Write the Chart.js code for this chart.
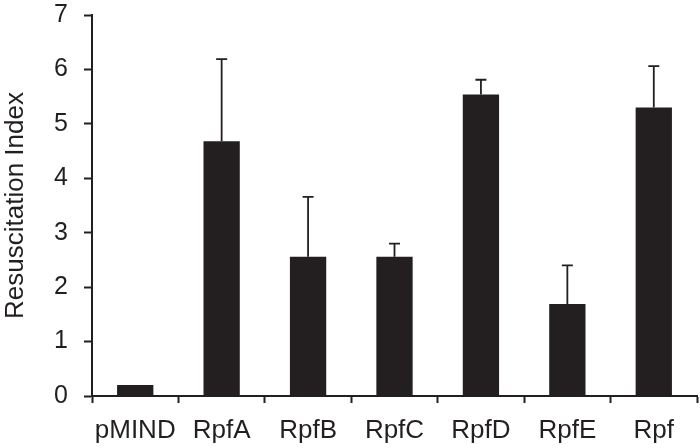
<!DOCTYPE html>
<html>
<head>
<meta charset="utf-8">
<script src="https://cdn.jsdelivr.net/npm/chart.js@4"></script>
<style>
	html, body { margin: 0; padding: 0; background: #fff; }
	#chart { display: block; }
</style>
</head>
<body>
<canvas id="chart" width="700" height="448"></canvas>
<script>
const categories = ['pMIND', 'RpfA', 'RpfB', 'RpfC', 'RpfD', 'RpfE', 'Rpf'];
const means = [0.2, 4.68, 2.56, 2.56, 5.54, 1.69, 5.30];
const errors = [0, 1.51, 1.10, 0.24, 0.27, 0.71, 0.76];

const ink = '#231f20';

// upper error bars drawn through the y scale
const errorBars = {
	id: 'errorBars',
	afterDatasetsDraw(chart) {
		const ctx = chart.ctx;
		const y = chart.scales.y;
		const meta = chart.getDatasetMeta(0);
		ctx.save();
		ctx.strokeStyle = ink;
		ctx.lineWidth = 1.8;
		meta.data.forEach((bar, i) => {
			if (!errors[i]) return;
			const top = y.getPixelForValue(means[i] + errors[i]);
			ctx.beginPath();
			ctx.moveTo(bar.x, bar.y);
			ctx.lineTo(bar.x, top);
			ctx.moveTo(bar.x - 5.5, top);
			ctx.lineTo(bar.x + 5.5, top);
			ctx.stroke();
		});
		ctx.restore();
	}
};

const config = {
	type: 'bar',
	data: {
		labels: categories,
		datasets: [{
			data: means,
			backgroundColor: ink,
			borderWidth: 0,
			categoryPercentage: 1,
			barPercentage: 0.42
		}]
	},
	options: {
		responsive: false,
		animation: false,
		layout: { padding: { top: 0, right: 3, left: 0, bottom: 0 } },
		plugins: {
			legend: { display: false },
			tooltip: { enabled: false }
		},
		scales: {
			x: {
				grid: {
					offset: true,
					drawOnChartArea: false,
					drawTicks: true,
					tickLength: 7,
					tickWidth: 2,
					tickColor: ink
				},
				border: { display: true, color: ink, width: 2 },
				ticks: {
					color: ink,
					padding: 12,
					maxRotation: 0,
					minRotation: 0,
					autoSkip: false,
					font: { family: 'Liberation Sans, Arial, sans-serif', size: 26 }
				},
				afterFit(scale) { scale.height = 52; }
			},
			y: {
				min: 0,
				max: 7,
				grid: {
					drawOnChartArea: false,
					drawTicks: true,
					tickLength: 8,
					tickWidth: 2,
					tickColor: ink
				},
				border: { display: true, color: ink, width: 2 },
				ticks: {
					stepSize: 1,
					color: ink,
					padding: 16,
					font: { family: 'Liberation Sans, Arial, sans-serif', size: 25 }
				},
				title: {
					display: true,
					text: 'Resuscitation Index',
					color: ink,
					padding: { top: 0, bottom: 6 },
					font: { family: 'Liberation Sans, Arial, sans-serif', size: 26 }
				},
				afterFit(scale) {
					scale.width = 92;
					scale.paddingTop = 15;
					scale.paddingBottom = 0;
				}
			}
		}
	},
	plugins: [errorBars]
};

document.addEventListener('DOMContentLoaded', () => {
	const ctx = document.getElementById('chart');
	const chart = new Chart(ctx, config);
});
</script>
</body>
</html>
